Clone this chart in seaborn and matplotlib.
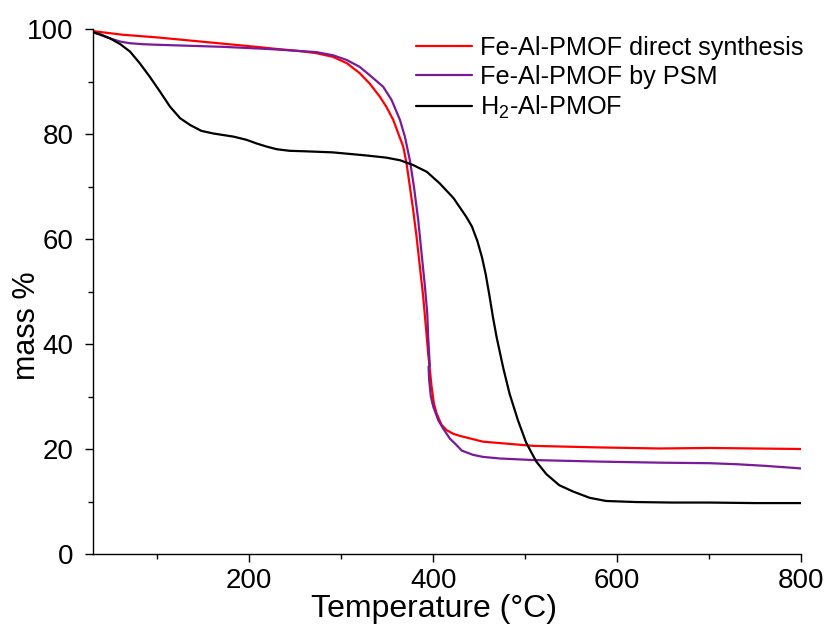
import numpy as np
import pandas as pd
import matplotlib
matplotlib.use("Agg")
import matplotlib.pyplot as plt
import seaborn as sns
from matplotlib.ticker import MultipleLocator

# ---- data ----
labels = ["Fe-Al-PMOF direct synthesis", "Fe-Al-PMOF by PSM", "H$_2$-Al-PMOF"]
colors = ["#ff0000", "#7a1a9a", "#000000"]

red_T = [30, 63, 100, 136, 172, 208, 230, 255, 273, 291, 306, 320, 331, 342, 349, 356.5,
         362, 367.4, 371, 374.6, 378.2, 381.9, 385.5, 389.1, 392, 394.5, 398.2, 400.7,
         403.6, 409, 414.5, 421.7, 429, 454, 508.5, 581, 646, 700, 750, 800]
red_m = [99.6, 98.9, 98.4, 97.8, 97.2, 96.6, 96.2, 95.8, 95.4, 94.7, 93.5, 91.6, 89.6, 87.1,
         85.2, 82.7, 80.1, 77.6, 74.4, 70.0, 65.5, 60.4, 54.7, 49.0, 43.3, 38.2, 31.9, 28.7,
         26.8, 24.6, 23.6, 22.9, 22.5, 21.4, 20.6, 20.3, 20.1, 20.2, 20.1, 20.0]

psm_T = [30, 38, 49, 60, 70, 85, 100, 136, 172, 208, 230, 255, 273, 291, 306, 320, 331,
         345.6, 354.7, 363.8, 369.2, 374.6, 379, 383.7, 387.3, 391, 393.5, 394.5, 396.3,
         394.9, 395.6, 397.4, 400, 405.4, 410.8, 418, 425, 431, 443, 454, 472, 508, 581,
         646, 700, 730, 760, 800]
psm_m = [99.4, 98.9, 98.2, 97.6, 97.3, 97.1, 97.0, 96.8, 96.6, 96.3, 96.1, 95.8, 95.6, 95.0,
         94.1, 92.8, 91.2, 89.0, 86.5, 82.7, 79.5, 75.0, 70.0, 63.6, 57.3, 50.9, 45.8, 41.4,
         35.7, 35.7, 33.1, 30.0, 28.1, 25.5, 23.9, 22.0, 20.8, 19.7, 18.9, 18.5, 18.2, 17.9,
         17.6, 17.4, 17.3, 17.1, 16.8, 16.3]

h2_T = [30, 38, 49, 60, 70.5, 81, 92, 103, 114, 125, 136, 148, 161, 183, 197, 208, 219,
        230, 244, 262, 291, 328, 349, 364, 378, 393, 407, 422, 436, 442, 448, 453, 457,
        461, 465, 469, 476, 483, 492, 501, 512, 523, 537, 552, 570, 588, 620, 660, 700,
        750, 800]
h2_m = [99.4, 99.0, 98.2, 97.1, 95.7, 93.5, 90.9, 88.1, 85.2, 83.0, 81.7, 80.6, 80.1, 79.5,
        78.9, 78.2, 77.6, 77.1, 76.8, 76.7, 76.5, 75.9, 75.5, 75.0, 74.1, 72.8, 70.6, 67.8,
        64.2, 62.4, 59.6, 56.5, 53.3, 49.3, 45.0, 41.2, 35.5, 30.5, 25.5, 21.2, 17.6, 15.2,
        13.1, 11.9, 10.7, 10.1, 9.9, 9.8, 9.8, 9.7, 9.7]

x_ticks = [200, 400, 600, 800]
y_ticks = [0, 20, 40, 60, 80, 100]

# ---- build tidy frame ----
frames = []
for lab, T, m in zip(labels, [red_T, psm_T, h2_T], [red_m, psm_m, h2_m]):
    frames.append(pd.DataFrame({"T": T, "mass": m, "sample": lab}))
df = pd.concat(frames, ignore_index=True)

sns.set_theme(style="ticks")
plt.rcParams["font.family"] = ["Liberation Sans", "DejaVu Sans"]
plt.rcParams["mathtext.fontset"] = "custom"
plt.rcParams["mathtext.rm"] = "Liberation Sans"
plt.rcParams["mathtext.default"] = "regular"
plt.rcParams["text.color"] = "black"
plt.rcParams["axes.labelcolor"] = "black"
plt.rcParams["xtick.color"] = "black"
plt.rcParams["ytick.color"] = "black"

fig = plt.figure(figsize=(8.31, 6.32), dpi=100)
ax = fig.add_axes([0.1116, 0.1234, 0.8527, 0.8307])

sns.lineplot(data=df, x="T", y="mass", hue="sample", hue_order=labels,
             palette=dict(zip(labels, colors)), sort=False, estimator=None,
             units="sample", linewidth=1.6, ax=ax)

ax.set_xlim(30, 800)
ax.set_ylim(0, 100)
ax.set_xticks(x_ticks)
ax.set_yticks(y_ticks)
ax.xaxis.set_minor_locator(MultipleLocator(100))
ax.yaxis.set_minor_locator(MultipleLocator(10))
ax.tick_params(which="major", direction="out", length=6, width=1.0, labelsize=20,
               color="black", labelcolor="black")
ax.tick_params(axis="x", which="major", pad=4)
ax.tick_params(axis="y", which="major", pad=8)
ax.tick_params(which="minor", direction="out", length=3.5, width=1.0, color="black")
ax.set_xlabel("Temperature (°C)", fontsize=23, labelpad=0, x=0.481)
ax.set_ylabel("mass %", fontsize=22, labelpad=-11, y=0.434)
sns.despine(ax=ax)
for s in ["left", "bottom"]:
    ax.spines[s].set_linewidth(1.0)
    ax.spines[s].set_color("black")

leg = ax.legend(loc="upper right", bbox_to_anchor=(1.003, 0.987), frameon=False,
                fontsize=18.2, handlelength=2.24, handletextpad=0.3, labelspacing=0.2,
                borderpad=0, borderaxespad=0, title=None)
for line in leg.get_lines():
    line.set_linewidth(1.6)

fig.savefig("out.png", dpi=100)
